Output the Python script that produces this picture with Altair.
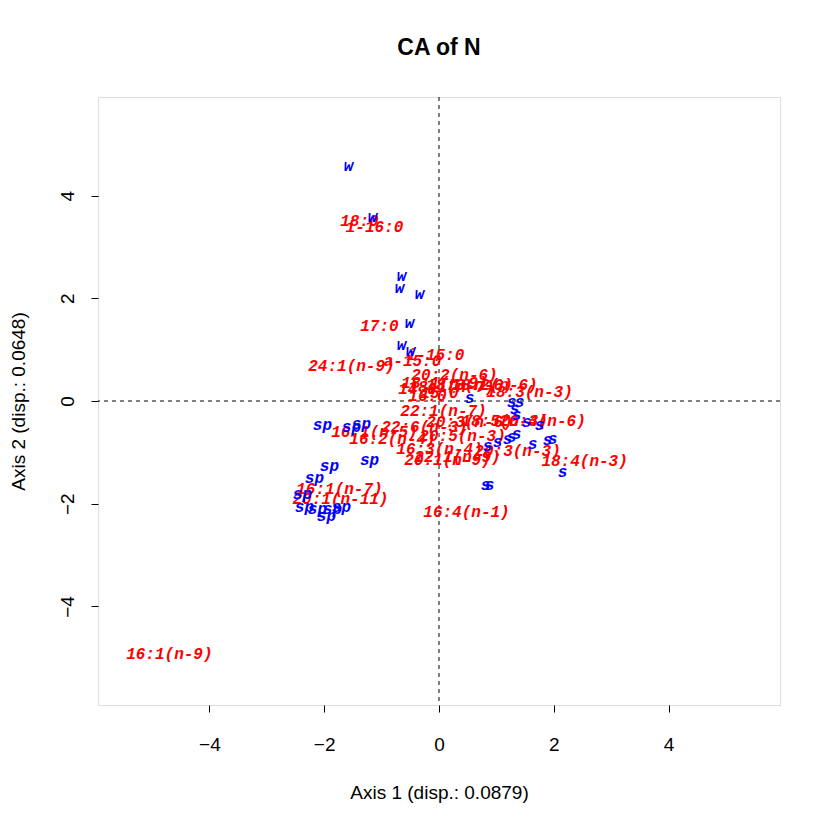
import altair as alt
import pandas as pd

# Row (red) labels and their coordinates
row_labels = ["18:0", "i-16:0", "17:0", "24:1(n-9)", "i-15:0", "a-15:0", "20:2(n-6)",
              "18:2(n-6)", "18:3(n-3)", "14:0", "16:0", "15:0", "18:1(n-9)", "18:1(n-7)",
              "18:3(n-6)", "22:1(n-7)", "22:6(n-3)", "16:1(n-5)", "16:2(n-4)", "20:5(n-3)",
              "20:4(n-6)", "18:5(n-3)", "20:3(n-6)", "16:3(n-4)", "20:3(n-3)", "20:1(n-9)",
              "22:1(n-9)", "18:4(n-3)", "16:4(n-1)", "16:1(n-7)", "20:1(n-11)", "16:1(n-9)"]
row_x = [-1.386, -1.124, -1.037, -1.525, -0.061, -0.462, 0.270,
         0.967, 1.577, -0.375, -0.200, 0.009, 0.096, 0.218,
         0.532, 0.078, -0.253, -1.124, -0.810, 0.410,
         1.804, 1.142, 0.532, 0.009, 1.368, 0.148,
         0.322, 2.536, 0.479, -1.734, -1.717, -4.697]
row_y = [3.513, 3.397, 1.470, 0.672, 0.905, 0.788, 0.516,
         0.321, 0.185, 0.243, 0.107, 0.165, 0.360, 0.263,
         0.302, -0.204, -0.516, -0.594, -0.749, -0.691,
         -0.399, -0.399, -0.418, -0.944, -0.964, -1.158,
         -1.100, -1.178, -2.170, -1.723, -1.917, -4.934]

# Column (blue) labels and their coordinates
col_labels = ["w"] * 8 + ["sp"] * 12 + ["s"] * 18
col_x = [-1.577, -1.159, -0.654, -0.688, -0.340, -0.514, -0.654, -0.497,
         -2.031, -1.525, -1.351, -1.211, -1.909, -2.170, -2.379, -2.344, -2.118, -1.856, -1.699, -1.961,
         0.532, 1.264, 1.403, 1.316, 1.351, 1.525, 1.752, 1.351, 1.264, 1.194, 1.020, 0.845,
         1.630, 1.891, 1.978, 2.153, 0.810, 0.880]
col_y = [4.584, 3.58, 2.443, 2.209, 2.092, 1.528, 1.100, 0.964,
         -0.477, -0.516, -0.457, -1.158, -1.275, -1.509, -1.820, -2.073, -2.112, -2.112, -2.073, -2.248,
         0.068, -0.010, -0.029, -0.165, -0.282, -0.418, -0.477, -0.652, -0.710, -0.749, -0.808, -0.886,
         -0.847, -0.769, -0.749, -1.392, -1.645, -1.645]

x_ticks = [-4, -2, 0, 2, 4]
y_ticks = [-4, -2, 0, 2, 4]

rows = pd.DataFrame({"x": row_x, "y": row_y, "label": row_labels})
cols = pd.DataFrame({"x": col_x, "y": col_y, "label": col_labels})

XD = [-5.94, 5.94]
YD = [-5.92, 5.92]

xscale = alt.Scale(domain=XD, nice=False, zero=False)
yscale = alt.Scale(domain=YD, nice=False, zero=False)

xaxis = alt.Axis(values=x_ticks, format="d", title="Axis 1 (disp.: 0.0879)", grid=False, domain=False,
                 tickSize=7, tickColor="black", labelFontSize=19, labelFont="Liberation Sans",
                 labelColor="black", labelPadding=32, labelBaseline="middle",
                 titleFontSize=19, titleFont="Liberation Sans", titleFontWeight="normal",
                 titleColor="black", titleY=87, titleBaseline="middle")
yaxis = alt.Axis(values=y_ticks, format="d", title="Axis 2 (disp.: 0.0648)", grid=False, domain=False,
                 tickSize=7, tickColor="black", labelFontSize=19, labelFont="Liberation Sans",
                 labelColor="black", labelAngle=-90, labelAlign="center", labelBaseline="middle",
                 labelPadding=24,
                 titleFontSize=19, titleFont="Liberation Sans", titleFontWeight="normal",
                 titleColor="black", titleX=-80, titleBaseline="middle", titleAngle=-90)

base_x = alt.X("x:Q", scale=xscale, axis=xaxis)
base_y = alt.Y("y:Q", scale=yscale, axis=yaxis)

vline = alt.Chart(pd.DataFrame({"x": [0]})).mark_rule(color="black", strokeDash=[4, 4], strokeWidth=1).encode(
    x=alt.X("x:Q", scale=xscale))
hline = alt.Chart(pd.DataFrame({"y": [0]})).mark_rule(color="black", strokeDash=[4, 4], strokeWidth=1).encode(
    y=alt.Y("y:Q", scale=yscale))

row_text = alt.Chart(rows).mark_text(
    color="#FF0000", font="Liberation Mono", fontStyle="italic", fontWeight="bold",
    fontSize=16, align="center", baseline="middle").encode(x=base_x, y=base_y, text="label:N")
col_text = alt.Chart(cols).mark_text(
    color="#0000FF", font="Liberation Mono", fontStyle="italic", fontWeight="bold",
    fontSize=16, align="center", baseline="middle").encode(
    x=alt.X("x:Q", scale=xscale), y=alt.Y("y:Q", scale=yscale), text="label:N")

chart = alt.layer(vline, hline, row_text, col_text).properties(
    width=682, height=608,
    title=alt.TitleParams("CA of N", fontSize=23, fontWeight="bold", font="Liberation Sans",
                          anchor="middle", offset=26, baseline="middle", color="black"),
    autosize=alt.AutoSizeParams(type="none"),
    padding={"left": 90, "top": 89, "right": 40, "bottom": 110},
).configure_view(stroke="black", strokeWidth=1).configure(background="white")

chart.save("out.html", embed_options={"renderer": "svg", "actions": False})
